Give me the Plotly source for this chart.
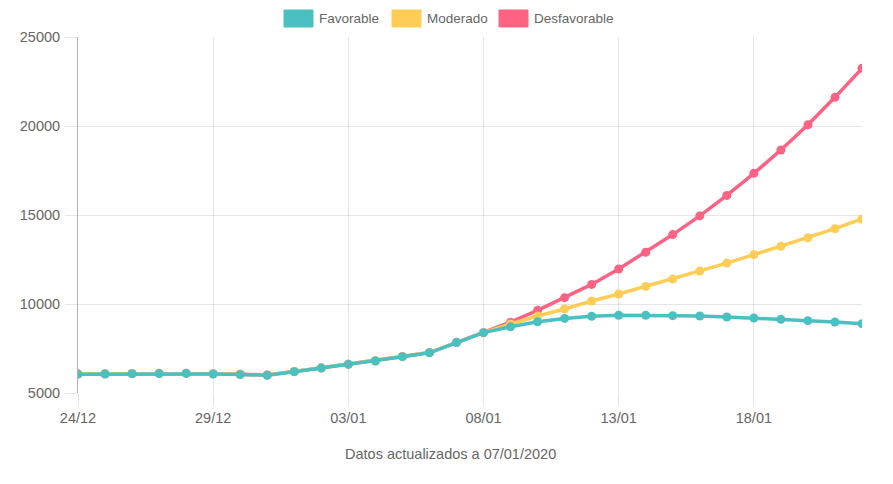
import plotly.graph_objects as go

dates = ["24/12", "25/12", "26/12", "27/12", "28/12", "29/12", "30/12", "31/12",
         "01/01", "02/01", "03/01", "04/01", "05/01", "06/01", "07/01", "08/01",
         "09/01", "10/01", "11/01", "12/01", "13/01", "14/01", "15/01", "16/01",
         "17/01", "18/01", "19/01", "20/01", "21/01", "22/01"]

favorable = [6060, 6070, 6080, 6090, 6100, 6070, 6040, 6000, 6200, 6400, 6610, 6800,
             7040, 7260, 7840, 8390, 8720, 9000, 9190, 9310, 9370, 9365, 9345, 9326,
             9270, 9213, 9140, 9064, 8990, 8895]
moderado = [6075, 6085, 6095, 6105, 6115, 6085, 6055, 6015, 6210, 6410, 6620, 6810,
            7050, 7270, 7845, 8390, 8876, 9326, 9720, 10170, 10560, 10990, 11400, 11850,
            12300, 12770, 13240, 13720, 14230, 14775]
desfavorable = [6075, 6085, 6095, 6105, 6115, 6085, 6055, 6015, 6210, 6410, 6620, 6810,
                7050, 7270, 7845, 8390, 8980, 9645, 10355, 11100, 11966, 12910, 13900, 14950,
                16100, 17340, 18650, 20070, 21610, 23240]

tick_labels = ["24/12", "29/12", "03/01", "08/01", "13/01", "18/01"]
y_ticks = [5000, 10000, 15000, 20000, 25000]

series = [
    ("Desfavorable", desfavorable, "rgb(255,99,132)"),
    ("Moderado", moderado, "rgb(255,205,86)"),
    ("Favorable", favorable, "rgb(75,192,192)"),
]

FONT = "Liberation Sans, Arial, sans-serif"
GRID = "rgba(0,0,0,0.1)"
FS_LEG = 13.5
FS_TICK = 14.5

fig = go.Figure()
for name, vals, col in series:
    fig.add_trace(go.Scatter(
        x=dates, y=vals, name=name, mode="lines+markers",
        line=dict(color=col, width=3.5),
        marker=dict(color=col, size=9),
        showlegend=False,
    ))

# legend drawn as boxes + labels (Chart.js style)
legend_items = [("Favorable", "rgb(75,192,192)", 284, 313),
                ("Moderado", "rgb(255,205,86)", 392, 421),
                ("Desfavorable", "rgb(255,99,132)", 499, 528)]
L, R, T, B = 78, 862, 37, 393
W, H = R - L, B - T
for name, col, x0, x1 in legend_items:
    fig.add_shape(type="rect", xref="paper", yref="paper",
                  x0=(x0 - L) / W, x1=(x1 - L) / W,
                  y0=(B - 27) / H, y1=(B - 10) / H,
                  fillcolor=col, line=dict(color=col, width=1))
    fig.add_annotation(xref="paper", yref="paper", x=(x1 + 4 - L) / W, y=(B - 18.5) / H,
                       text=name, showarrow=False, xanchor="left", yanchor="middle",
                       font=dict(family=FONT, size=FS_LEG, color="#666"))

fig.add_annotation(xref="paper", yref="paper", x=(450 - L) / W, y=(B - 454) / H,
                   text="Datos actualizados a 07/01/2020", showarrow=False,
                   xanchor="center", yanchor="middle",
                   font=dict(family=FONT, size=FS_TICK, color="#666"))

fig.update_layout(
    width=893, height=484,
    margin=dict(l=L, r=893 - R, t=T, b=484 - B, pad=0),
    plot_bgcolor="white", paper_bgcolor="white",
    font=dict(family=FONT, size=FS_TICK, color="#666"),
    xaxis=dict(
        type="category", categoryorder="array", categoryarray=dates,
        range=[0, len(dates) - 1],
        tickmode="array", tickvals=tick_labels, ticktext=tick_labels,
        showgrid=True, gridcolor=GRID, gridwidth=1,
        ticks="outside", ticklen=12, tickcolor=GRID,
        showline=False, zeroline=False,
        tickfont=dict(size=FS_TICK, color="#666"),
    ),
    yaxis=dict(
        range=[5000, 25000], tickmode="array", tickvals=y_ticks,
        ticktext=[str(v) for v in y_ticks],
        showgrid=True, gridcolor=GRID, gridwidth=1,
        ticks="outside", ticklen=12, tickcolor=GRID,
        showline=True, linecolor="rgba(0,0,0,0.3)", linewidth=1,
        zeroline=False, ticklabelstandoff=2,
        tickfont=dict(size=FS_TICK, color="#666"),
    ),
)

fig.write_html("out.html")
